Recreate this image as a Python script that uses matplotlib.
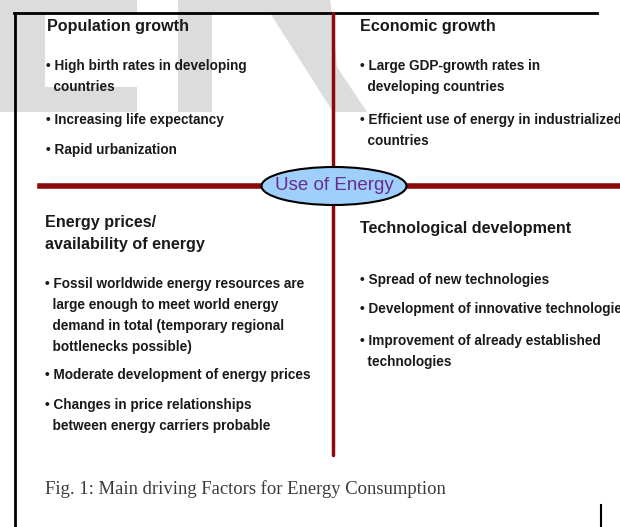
import matplotlib.pyplot as plt
from matplotlib.patches import Ellipse, Polygon

# text content of the four quadrants
headers = ["Population growth", "Economic growth",
           "Energy prices/\navailability of energy", "Technological development"]
pop_items = ["• High birth rates in developing\n  countries",
             "• Increasing life expectancy",
             "• Rapid urbanization"]
econ_items = ["• Large GDP-growth rates in\n  developing countries",
              "• Efficient use of energy in industrialized\n  countries"]
price_items = ["• Fossil worldwide energy resources are\n  large enough to meet world energy\n"
               "  demand in total (temporary regional\n  bottlenecks possible)",
               "• Moderate development of energy prices",
               "• Changes in price relationships\n  between energy carriers probable"]
tech_items = ["• Spread of new technologies",
              "• Development of innovative technologies",
              "• Improvement of already established\n  technologies"]
center_label = "Use of Energy"
caption = "Fig. 1: Main driving Factors for Energy Consumption"

W, H = 620, 527
fig = plt.figure(figsize=(W / 100, H / 100), dpi=100)
ax = fig.add_axes([0, 0, 1, 1])
ax.set_xlim(0, W)
ax.set_ylim(H, 0)
ax.axis("off")

# faint watermark letters in the background
wm = "#dcdcdc"
for pts in [
    [(0, 0), (137, 0), (137, 13), (45, 13), (45, 87), (137, 87), (137, 112), (0, 112)],
    [(178, 0), (330, 0), (333, 20), (337, 67), (367, 112), (333, 112), (270, 13),
     (212, 13), (212, 112), (178, 112)],
]:
    ax.add_patch(Polygon(pts, closed=True, fc=wm, ec="none", zorder=0))

# frame
ax.plot([15, 15], [13, H], color="black", lw=2, zorder=2)
ax.plot([14, 597], [13, 13], color="black", lw=2, zorder=2)
ax.plot([601, 601], [505, 526], color="black", lw=1.5, zorder=2)

# red axes of the diagram
red = "#8b0a0a"
ax.plot([333, 333], [13, 455], color=red, lw=2.5, zorder=3, solid_capstyle="round")
ax.plot([40, W], [186, 186], color=red, lw=4, zorder=3)

ax.add_patch(Ellipse((334, 186), 145, 38, fc="#9fd0fb", ec="black", lw=1.5, zorder=4))
ax.text(334, 186, center_label, ha="center", va="center", fontsize=13.5,
        color="#6a2a8e", family="Liberation Sans", zorder=5)

hfont = dict(family="Liberation Sans", fontweight="bold", fontsize=11.6, color="#1a1a1a",
             va="top", zorder=5)
bfont = dict(family="Liberation Sans", fontweight="bold", fontsize=9.8, color="#1a1a1a",
             va="top", linespacing=1.65, zorder=5)


def block(x, items, ys):
    for txt, y in zip(items, ys):
        ax.text(x, y, txt, **bfont)


ax.text(47, 19, headers[0], **hfont)
block(46, pop_items, [59, 113, 143])

ax.text(360, 19, headers[1], **hfont)
block(360, econ_items, [59, 113])

ax.text(45, 215, headers[2], linespacing=1.55, **hfont)
block(45, price_items, [277, 368, 398])

ax.text(360, 221, headers[3], **hfont)
block(360, tech_items, [273, 302, 334])

ax.text(45, 480, caption, family="Liberation Serif", fontsize=13.4, color="#3a3a3a",
        va="top", zorder=5)

fig.savefig("out.png", dpi=100)
